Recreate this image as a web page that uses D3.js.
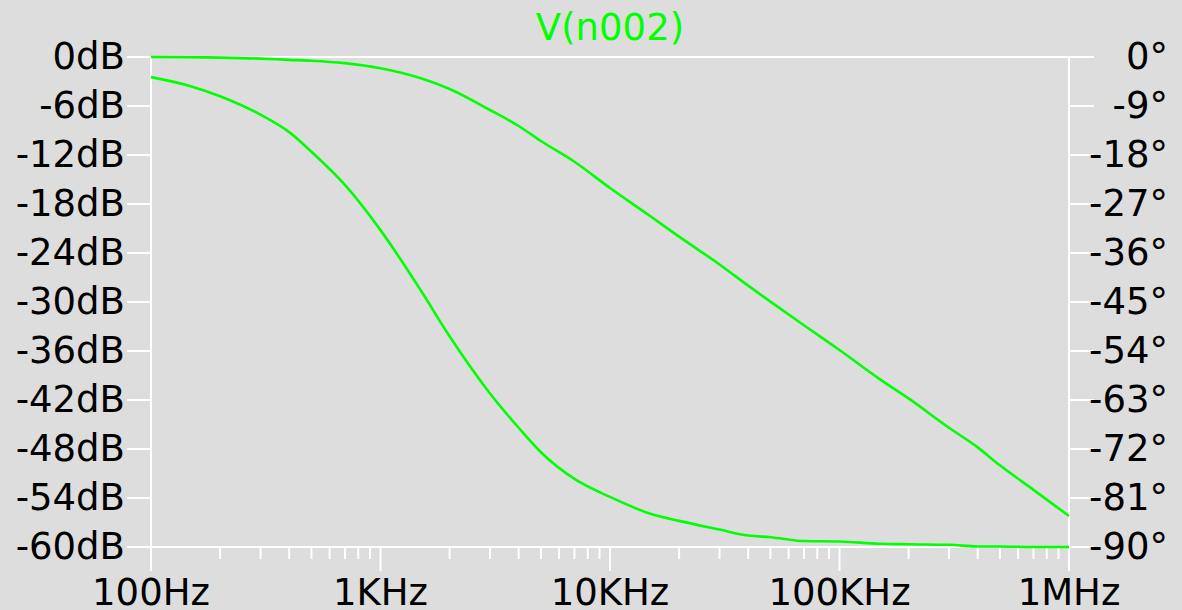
<!DOCTYPE html>
<html>
<head>
<meta charset="utf-8">
<script src="https://cdn.jsdelivr.net/npm/d3@7"></script>
<style>
    body { margin: 0; background: #dddddd; }
    svg { display: block; }
</style>
</head>
<body>
<svg id="chart" width="1182" height="610"></svg>
<script>
// Frequency points (Hz)
const freqs = [100, 150, 200, 300, 400, 500, 700,
    1e3, 1.5e3, 2e3, 3e3, 4e3, 5e3, 7e3,
    1e4, 1.5e4, 2e4, 3e4, 4e4, 5e4, 7e4,
    1e5, 1.5e5, 2e5, 3e5, 4e5, 5e5, 7e5, 1e6];

// Magnitude of V(n002) in dB (left axis)
const magDb = [0, -0.03, -0.08, -0.2, -0.35, -0.45, -0.75,
    -1.38, -2.61, -3.92, -6.49, -8.45, -10.29, -12.83,
    -16.04, -19.5, -22.0, -25.4, -28.0, -29.96, -32.85,
    -35.88, -39.47, -41.8, -45.4, -47.8, -50.0, -53.0, -56.2];

// Phase of V(n002) in degrees (right axis)
const phaseDeg = [-3.7, -5.4, -7.2, -10.6, -13.8, -17.4, -23.5,
    -31.8, -42.9, -51.3, -61.8, -68.1, -72.6, -77.5,
    -80.8, -83.9, -85.2, -86.8, -87.9, -88.2, -88.9,
    -89.0, -89.4, -89.5, -89.6, -89.9, -89.9, -90, -90];

// Tick values and labels
const freqTicks = [100, 1e3, 1e4, 1e5, 1e6];
const freqLabels = ["100Hz", "1KHz", "10KHz", "100KHz", "1MHz"];
const dbTicks = [0, -6, -12, -18, -24, -30, -36, -42, -48, -54, -60];
const degTicks = [0, -9, -18, -27, -36, -45, -54, -63, -72, -81, -90];
const title = "V(n002)";

const svg = d3.select("#chart");
const plotLeft = 151, plotRight = 1069, plotTop = 57, plotBottom = 547;
const green = "#00ff00";
const font = "DejaVu Sans, sans-serif";

svg.append("rect")
    .attr("width", 1182).attr("height", 610)
    .attr("fill", "#dddddd");

var x = d3.scaleLog().domain([100, 1e6]).range([plotLeft, plotRight]);
var yDb = d3.scaleLinear().domain([0, -60]).range([plotTop, plotBottom]);
var yDeg = d3.scaleLinear().domain([0, -90]).range([plotTop, plotBottom]);

// minor ticks 2..9 in every decade
var minorTicks = [];
for (var dec = 100; dec < 1e6; dec *= 10) {
    for (var m = 2; m <= 9; m++) minorTicks.push(dec * m);
}

function styleAxis(g) {
    g.selectAll("path, line")
        .attr("stroke", "white")
        .attr("stroke-width", 2);
    g.selectAll("text")
        .attr("fill", "black")
        .attr("font-family", font)
        .attr("font-size", "37px");
}

// top frame line
svg.append("line")
    .attr("x1", plotLeft).attr("x2", plotRight)
    .attr("y1", plotTop).attr("y2", plotTop)
    .attr("stroke", "white").attr("stroke-width", 2);

// left axis (dB)
svg.append("g")
    .attr("transform", "translate(" + plotLeft + ",0)")
    .call(d3.axisLeft(yDb).tickValues(dbTicks).tickSize(24).tickSizeOuter(0)
        .tickPadding(2).offset(0).tickFormat(function(d) { return d + "dB"; }))
    .call(styleAxis);

// right axis (degrees)
var rightAxis = svg.append("g")
    .attr("transform", "translate(" + plotRight + ",0)")
    .call(d3.axisRight(yDeg).tickValues(degTicks).tickSize(25).tickSizeOuter(0)
        .offset(0).tickFormat(function(d) { return d + "\u00b0"; }))
    .call(styleAxis);
rightAxis.selectAll("text")
    .attr("text-anchor", "end")
    .attr("x", 99);

// bottom minor ticks
svg.append("g")
    .attr("transform", "translate(0," + plotBottom + ")")
    .call(d3.axisBottom(x).tickValues(minorTicks).tickSize(12).tickSizeOuter(0)
        .offset(0).tickFormat(""))
    .call(styleAxis);

// bottom major ticks with labels
svg.append("g")
    .attr("transform", "translate(0," + plotBottom + ")")
    .call(d3.axisBottom(x).tickValues(freqTicks).tickSize(24).tickSizeOuter(0)
        .tickPadding(8).offset(0)
        .tickFormat(function(d, i) { return freqLabels[i]; }))
    .call(styleAxis);

// title
svg.append("text")
    .attr("x", (plotLeft + plotRight) / 2)
    .attr("y", 40)
    .attr("text-anchor", "middle")
    .attr("fill", green)
    .attr("font-family", font)
    .attr("font-size", "37px")
    .text(title);

// curves
var magLine = d3.line()
    .x(function(d, i) { return x(freqs[i]); })
    .y(function(d) { return yDb(d); })
    .curve(d3.curveMonotoneX);

var phaseLine = d3.line()
    .x(function(d, i) { return x(freqs[i]); })
    .y(function(d) { return yDeg(d); })
    .curve(d3.curveMonotoneX);

svg.append("path")
    .datum(magDb)
    .attr("d", magLine)
    .attr("fill", "none")
    .attr("stroke", green)
    .attr("stroke-width", 2.6);

svg.append("path")
    .datum(phaseDeg)
    .attr("d", phaseLine)
    .attr("fill", "none")
    .attr("stroke", green)
    .attr("stroke-width", 2.6);
</script>
</body>
</html>
